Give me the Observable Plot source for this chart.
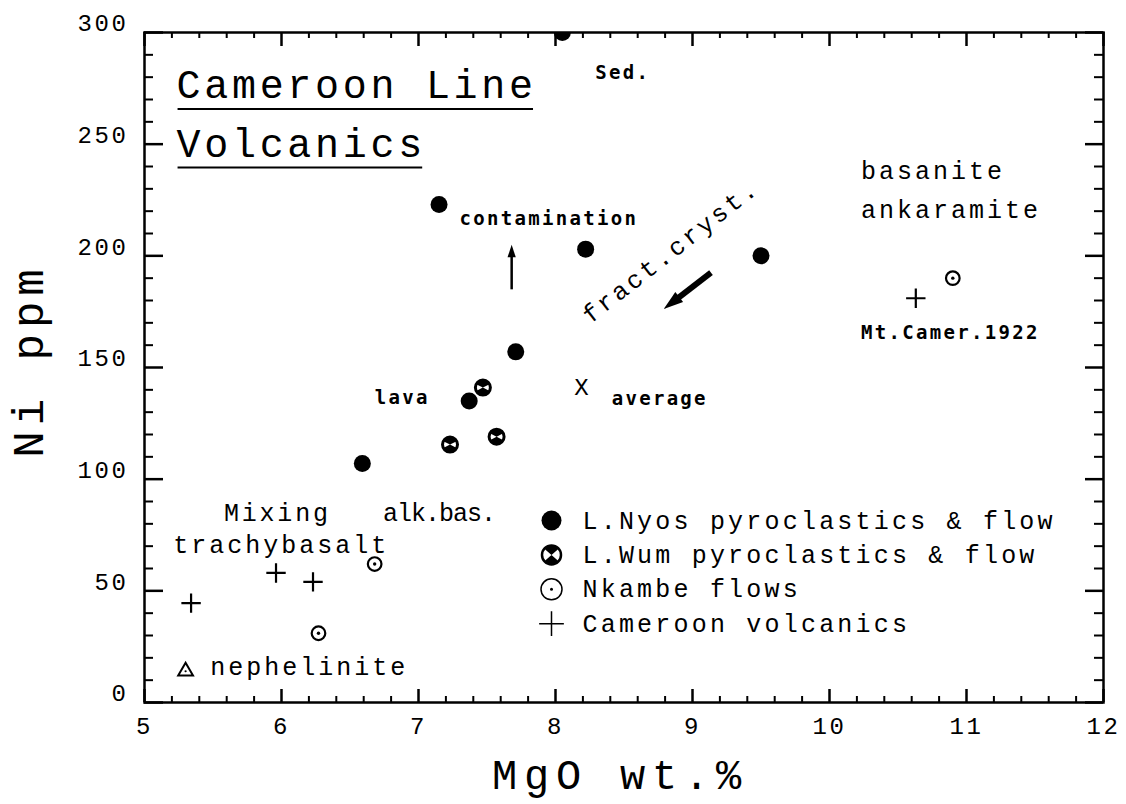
<!DOCTYPE html>
<html>
<head>
<meta charset="utf-8">
<script src="https://cdn.jsdelivr.net/npm/d3@7"></script>
<script src="https://cdn.jsdelivr.net/npm/@observablehq/plot@0.6"></script>
<style>
  html, body { margin: 0; padding: 0; background: #fff; }
  #chart svg { display: block; }
</style>
</head>
<body>
<div id="chart"></div>
<script>
// ---------------- data ----------------
const xDomain = [5, 12];
const yDomain = [0, 300];
const xTickLabels = [5, 6, 7, 8, 9, 10, 11, 12];
const yTickLabels = [0, 50, 100, 150, 200, 250, 300];

// L.Nyos pyroclastics & flow (filled circles)
const nyosMgO = [8.05, 7.15, 8.22, 9.50, 7.71, 7.37, 6.59];
const nyosNi  = [300, 223, 203, 200, 157, 135, 107];
// L.Wum pyroclastics & flow
const wumMgO = [7.47, 7.57, 7.23];
const wumNi  = [141, 119, 115.5];
// Nkambe flows
const nkambeMgO = [10.90, 6.68, 6.27];
const nkambeNi  = [190, 62, 31];
// Cameroon volcanics (+)
const cameroonMgO = [10.63, 5.96, 6.23, 5.34];
const cameroonNi  = [181, 58, 54, 44.5];
// average (X) and nephelinite (triangle)
const averageMgO = [8.19];
const averageNi  = [141];
const nephMgO = [5.30];
const nephNi  = [14];

const legendLabels = ["L.Nyos pyroclastics & flow", "L.Wum pyroclastics & flow", "Nkambe flows", "Cameroon volcanics"];

// annotations
const titleTexts = ["Cameroon Line", "Volcanics"];
const titleMgO = [5.234, 5.234];
const titleNi = [276.4, 250.2];

const boldTexts = ["Sed.", "contamination", "lava", "average", "Mt.Camer.1922"];
const boldMgO = [8.29, 7.30, 6.68, 8.41, 10.23];
const boldNi = [282, 216.6, 136.6, 136, 165.5];

const noteTexts = ["basanite", "ankaramite", "trachybasalt", "nephelinite"];
const noteMgO = [10.23, 10.23, 5.21, 5.48];
const noteNi = [238, 220.6, 70.7, 15.7];
const mixTexts = ["Mixing"];
const mixMgO = [5.58];
const mixNi = [85];
const alkTexts = ["alk.bas."];
const alkMgO = [6.74];
const alkNi = [85];

const fractTexts = ["fract.cryst."];
const fractMgO = [8.84];
const fractNi = [202];

// arrows: contamination (up), fractional crystallisation (down-left)
const arrowFromMgO = [7.68, 9.135];
const arrowFromNi  = [185, 192.5];
const arrowToMgO   = [7.68, 8.79];
const arrowToNi    = [205, 176.2];
const arrowWidths  = [2.5, 6];

// ---------------- layout ----------------
const W = 1126, H = 804, mL = 144, mR = 23, mT = 32, mB = 102;
const frameW = W - mL - mR, frameH = H - mT - mB;
const kx = frameW / (xDomain[1] - xDomain[0]);
const ky = frameH / (yDomain[1] - yDomain[0]);

const zip = (xs, ys) => xs.map((x, i) => ({MgO: x, Ni: ys[i]}));
const nyos = zip(nyosMgO, nyosNi);
const wum = zip(wumMgO, wumNi);
const nkambe = zip(nkambeMgO, nkambeNi);
const cameroon = zip(cameroonMgO, cameroonNi);
const average = zip(averageMgO, averageNi);
const neph = zip(nephMgO, nephNi);
const labelled = (ts, xs, ys) => ts.map((t, i) => ({t, MgO: xs[i], Ni: ys[i]}));
const titles = labelled(titleTexts, titleMgO, titleNi);
const bolds = labelled(boldTexts, boldMgO, boldNi);
const notes = labelled(noteTexts, noteMgO, noteNi);
const mixes = labelled(mixTexts, mixMgO, mixNi);
const alks = labelled(alkTexts, alkMgO, alkNi);
const fracts = labelled(fractTexts, fractMgO, fractNi);
const arrows = arrowFromMgO.map((x, i) => {
  const dxp = (arrowToMgO[i] - x) * kx;
  const dyp = -(arrowToNi[i] - arrowFromNi[i]) * ky;
  return {x1: x, y1: arrowFromNi[i], x2: arrowToMgO[i], y2: arrowToNi[i], w: arrowWidths[i],
          angle: Math.atan2(dxp, -dyp) * 180 / Math.PI};
});

const xMinor = d3.range(51, 120).map(v => v / 10).filter(v => Math.round(v * 10) % 2 === 0 && Math.round(v * 10) % 10 !== 0);
const yMinor = d3.range(10, 300, 10).filter(v => v % 50 !== 0);

// custom symbols
const hourglass = h => ({
  draw(ctx, size) {
    const r = Math.sqrt(size / Math.PI);
    ctx.moveTo(0, 0);
    ctx.arc(0, 0, r, -Math.PI / 2 - h, -Math.PI / 2 + h);
    ctx.closePath();
    ctx.moveTo(0, 0);
    ctx.arc(0, 0, r, Math.PI / 2 - h, Math.PI / 2 + h);
    ctx.closePath();
  }
});
const arrowHead = {
  draw(ctx, size) {
    const r = Math.sqrt(size / Math.PI);
    ctx.moveTo(0, 0);
    ctx.lineTo(0.75 * r, 2.3 * r);
    ctx.lineTo(-0.75 * r, 2.3 * r);
    ctx.closePath();
  }
};

const LIGHT = "'Liberation Mono', 'DejaVu Sans Mono', monospace";
const BOLD = "'DejaVu Sans Mono', monospace";
const legendDx = 407, legendTextDx = 438, legendDy0 = 488, legendStep = 34.4;
const legendSymbolMarks = [
  Plot.dot([0], {frameAnchor: "top-left", dx: legendDx, dy: legendDy0, r: 10, fill: "black"}),
  Plot.dot([0], {frameAnchor: "top-left", dx: legendDx, dy: legendDy0 + legendStep, r: 9.5, fill: "white", stroke: "black", strokeWidth: 2.5}),
  Plot.dot([0], {frameAnchor: "top-left", dx: legendDx, dy: legendDy0 + legendStep, r: 9.5, symbol: hourglass(0.85), fill: "black"}),
  Plot.dot([0], {frameAnchor: "top-left", dx: legendDx, dy: legendDy0 + 2 * legendStep, r: 10.5, fill: "none", stroke: "black", strokeWidth: 1.5}),
  Plot.dot([0], {frameAnchor: "top-left", dx: legendDx, dy: legendDy0 + 2 * legendStep, r: 1.5, fill: "black"}),
  Plot.dot([0], {frameAnchor: "top-left", dx: legendDx, dy: legendDy0 + 3 * legendStep, r: 8, symbol: "plus", stroke: "black", strokeWidth: 1.5})
];
const legendTextMarks = legendLabels.map((t, i) =>
  Plot.text([t], {text: d => d, frameAnchor: "top-left", dx: legendTextDx, dy: legendDy0 + i * legendStep,
                  textAnchor: "start", lineAnchor: "middle", fontSize: 25, fontFamily: LIGHT, ariaDescription: "legend"}));

const svg = Plot.plot({
  width: W, height: H,
  marginLeft: mL, marginRight: mR, marginTop: mT, marginBottom: mB,
  style: {fontFamily: LIGHT, background: "white", color: "black"},
  x: {domain: xDomain, axis: null},
  y: {domain: yDomain, axis: null},
  marks: [
    // ticks (inward)
    Plot.ruleX(xTickLabels, {x: d => d, insetTop: frameH - 13, strokeWidth: 2.5}),
    Plot.ruleX(xMinor, {x: d => d, insetTop: frameH - 6, strokeWidth: 2}),
    Plot.ruleX(xTickLabels, {x: d => d, insetBottom: frameH - 14, strokeWidth: 2.5}),
    Plot.ruleX(xMinor, {x: d => d, insetBottom: frameH - 6, strokeWidth: 2}),
    Plot.ruleY(yTickLabels, {y: d => d, insetRight: frameW - 19, strokeWidth: 2.5}),
    Plot.ruleY(yMinor, {y: d => d, insetRight: frameW - 9, strokeWidth: 2}),
    Plot.ruleY(yTickLabels, {y: d => d, insetLeft: frameW - 18, strokeWidth: 2.5}),
    Plot.ruleY(yMinor, {y: d => d, insetLeft: frameW - 9, strokeWidth: 2}),
    Plot.frame({stroke: "black", strokeWidth: 2.5}),
    // tick labels
    Plot.axisX(xTickLabels, {tickSize: 0, tickPadding: 14, tickFormat: "d", fontSize: 24, label: null, fontFamily: LIGHT}),
    Plot.axisY(yTickLabels, {tickSize: 0, tickPadding: 16, tickFormat: "d", dy: -9, fontSize: 24, label: null, fontFamily: LIGHT}),
    // axis titles
    Plot.text(["MgO wt.%"], {text: d => d, frameAnchor: "bottom", lineAnchor: "middle", textAnchor: "middle",
                             dx: -4, dy: 73, fontSize: 42, fontFamily: LIGHT, ariaDescription: "xtitle"}),
    Plot.text(["Ni ppm"], {text: d => d, frameAnchor: "left", lineAnchor: "middle", textAnchor: "middle",
                           dx: -116, dy: -7, rotate: -90, fontSize: 44, fontFamily: LIGHT, ariaDescription: "ytitle"}),
    // data
    Plot.dot(nyos, {x: "MgO", y: "Ni", r: 8.5, fill: "black", clip: true}),
    Plot.dot(wum, {x: "MgO", y: "Ni", r: 7.5, fill: "white", stroke: "black", strokeWidth: 3}),
    Plot.dot(wum, {x: "MgO", y: "Ni", r: 7.5, symbol: hourglass(1.1), fill: "black"}),
    Plot.dot(nkambe, {x: "MgO", y: "Ni", r: 6.8, fill: "white", stroke: "black", strokeWidth: 2.2}),
    Plot.dot(nkambe, {x: "MgO", y: "Ni", r: 1.7, fill: "black"}),
    Plot.dot(cameroon, {x: "MgO", y: "Ni", r: 6.3, symbol: "plus", stroke: "black", strokeWidth: 2.2}),
    Plot.dot(neph, {x: "MgO", y: "Ni", r: 5.5, symbol: "triangle", fill: "white", stroke: "black", strokeWidth: 2}),
    Plot.dot(neph, {x: "MgO", y: "Ni", r: 1.1, fill: "black"}),
    Plot.text(average, {x: "MgO", y: "Ni", text: () => "X", fontSize: 24, fontFamily: LIGHT}),
    // arrows: shaft + filled head
    Plot.arrow(arrows, {x1: "x1", y1: "y1", x2: "x2", y2: "y2", strokeWidth: "w", stroke: "black",
                        headLength: 0, insetEnd: 11, strokeLinecap: "butt"}),
    Plot.dot(arrows, {filter: d => d.w <= 3, x: "x2", y: "y2", r: 5.5, symbol: arrowHead, fill: "black", stroke: "none", rotate: "angle"}),
    Plot.dot(arrows, {filter: d => d.w > 3, x: "x2", y: "y2", r: 8.5, symbol: arrowHead, fill: "black", stroke: "none", rotate: "angle"}),
    // annotations
    Plot.text(titles, {x: "MgO", y: "Ni", text: "t", textAnchor: "start", fontSize: 40, fontFamily: LIGHT, ariaDescription: "title"}),
    Plot.text(bolds, {x: "MgO", y: "Ni", text: "t", textAnchor: "start", fontSize: 19, fontWeight: "bold", fontFamily: BOLD, ariaDescription: "bold"}),
    Plot.text(notes, {x: "MgO", y: "Ni", text: "t", textAnchor: "start", fontSize: 25, fontFamily: LIGHT, ariaDescription: "note"}),
    Plot.text(mixes, {x: "MgO", y: "Ni", text: "t", textAnchor: "start", fontSize: 25, fontFamily: LIGHT, ariaDescription: "mix"}),
    Plot.text(alks, {x: "MgO", y: "Ni", text: "t", textAnchor: "start", fontSize: 25, fontFamily: LIGHT, ariaDescription: "alk"}),
    Plot.text(fracts, {x: "MgO", y: "Ni", text: "t", textAnchor: "middle", fontSize: 25, rotate: -38, fontFamily: LIGHT, ariaDescription: "note"}),
    // legend
    ...legendSymbolMarks,
    ...legendTextMarks
  ]
});
document.getElementById("chart").append(svg);

// letter spacing to mimic the wide plotter lettering
const root = d3.select(svg);
const spacing = {xtitle: 6.8, ytitle: 6, title: 3.7, bold: 2.3, note: 3, mix: 2.8, alk: -1, legend: 3.2};
for (const [k, v] of Object.entries(spacing)) {
  root.selectAll(`g[aria-description="${k}"] text`).attr("letter-spacing", v);
}
root.selectAll('g[aria-label="x-axis tick label"] text, g[aria-label="y-axis tick label"] text').attr("letter-spacing", 2.6);

// underline the title lines
const svgRect = svg.getBoundingClientRect();
root.selectAll('g[aria-description="title"] text').each(function () {
  const r = this.getBoundingClientRect();
  const fs = 40;
  const baseline = r.bottom - svgRect.top - 0.3 * fs;
  root.append("line")
    .attr("x1", r.left - svgRect.left + 1).attr("x2", r.right - svgRect.left - spacing.title)
    .attr("y1", baseline + 11).attr("y2", baseline + 11)
    .attr("stroke", "black").attr("stroke-width", 2.2);
});
</script>
</body>
</html>
